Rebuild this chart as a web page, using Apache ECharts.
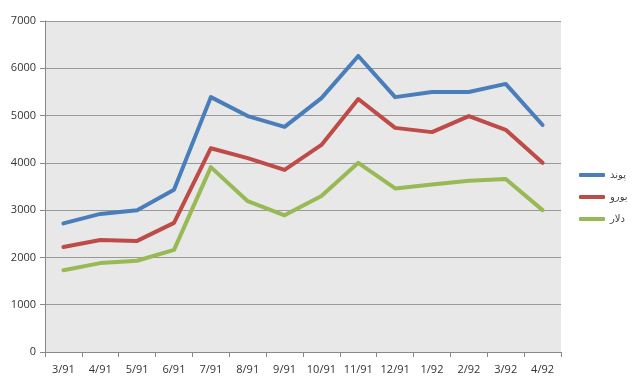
<!DOCTYPE html>
<html><head><meta charset="utf-8">
<script src="https://cdn.jsdelivr.net/npm/echarts@6/dist/echarts.min.js"></script>
<style>html,body{margin:0;padding:0;background:#fff}#c{width:640px;height:389px}</style>
</head><body><div id="c"></div>
<script>
const categories = ['3/91','4/91','5/91','6/91','7/91','8/91','9/91','10/91','11/91','12/91','1/92','2/92','3/92','4/92'];
const seriesNames = ['پوند','یورو','دلار'];
const pound = [2720,2920,3000,3430,5390,4990,4760,5370,6260,5390,5500,5500,5670,4800];
const euro = [2220,2370,2350,2730,4310,4100,3850,4380,5350,4740,4650,4990,4700,4000];
const dollar = [1730,1880,1930,2160,3910,3190,2890,3300,4000,3460,3540,3620,3660,3000];
const yTicks = [0,1000,2000,3000,4000,5000,6000,7000];
const colors = ['#4a7ebb','#be4b48','#98b954'];

const chart = echarts.init(document.getElementById('c'));
const mk = (name, data, i) => ({
  name, type:'line', data, symbol:'none', smooth:false,
  lineStyle:{width:4, color:colors[i], cap:'round', join:'round'},
  itemStyle:{color:colors[i]}
});
chart.setOption({
  animation:false,
  textStyle:{fontFamily:'"Open Sans", "DejaVu Sans", sans-serif'},
  grid:{left:45, right:79, top:21, bottom:37, show:true, backgroundColor:'#e8e8e8', borderWidth:0},
  legend:{
    orient:'vertical', left:574, top:165, itemGap:12,
    icon:'roundRect', itemWidth:26, itemHeight:4,
    textStyle:{fontSize:10, color:'#444', fontFamily:'"DejaVu Sans", sans-serif'},
    data:seriesNames
  },
  xAxis:{
    type:'category', data:categories, boundaryGap:true,
    axisLine:{lineStyle:{color:'#888'}},
    axisTick:{show:true, alignWithLabel:false, length:5, lineStyle:{color:'#888'}},
    axisLabel:{color:'#333', fontSize:11, margin:12, interval:0}
  },
  yAxis:{
    type:'value', min:yTicks[0], max:yTicks[yTicks.length-1], interval:1000,
    axisLine:{show:true, lineStyle:{color:'#888'}},
    axisTick:{show:true, length:5, lineStyle:{color:'#888'}},
    axisLabel:{color:'#333', fontSize:11, margin:9, formatter:v => String(v)},
    splitLine:{lineStyle:{color:'#999', width:1}}
  },
  series:[mk(seriesNames[0], pound, 0), mk(seriesNames[1], euro, 1), mk(seriesNames[2], dollar, 2)]
});
</script></body></html>
